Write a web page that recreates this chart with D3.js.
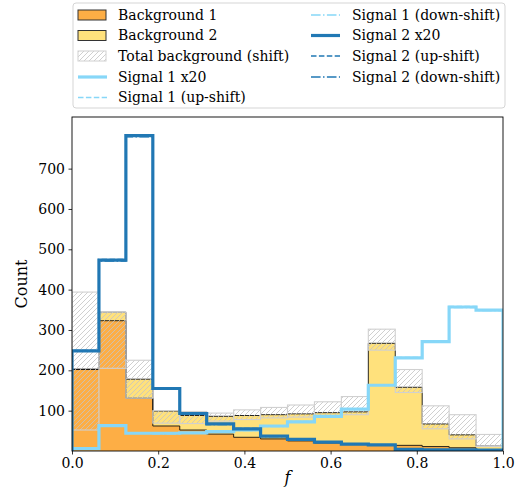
<!DOCTYPE html>
<html>
<head>
<meta charset="utf-8">
<script src="https://cdn.jsdelivr.net/npm/d3@7"></script>
<style>
  body { margin: 0; background: #fff; }
  svg { display: block; font-family: "DejaVu Serif", serif; }
</style>
</head>
<body>
<svg id="chart" width="525" height="489"></svg>
<script>
// ---------------- data ----------------
const binEdges = [0, 0.0625, 0.125, 0.1875, 0.25, 0.3125, 0.375, 0.4375, 0.5,
                  0.5625, 0.625, 0.6875, 0.75, 0.8125, 0.875, 0.9375, 1.0];
const background1 = [202, 323, 131, 62, 52, 42, 34, 30, 25, 20, 16, 15, 14, 11, 8, 3];
const background2 = [1, 21, 47, 37, 36, 44, 54, 60, 67, 75, 81, 252, 144, 56, 32, 9];
const totalShiftLow  = [52, 205, 131, 69, 68, 74, 78, 82, 84, 87, 90, 250, 145, 55, 30, 11];
const totalShiftHigh = [394, 344, 225, 100, 98, 94, 102, 108, 114, 122, 135, 302, 202, 112, 90, 41];
const signal1 = [6, 63, 44, 44, 45, 48, 52, 62, 72, 86, 104, 163, 231, 271, 357, 349];
const signal1Up = [6, 64, 45, 44, 45, 49, 52, 62, 73, 86, 105, 164, 232, 272, 358, 350];
const signal1Down = [6, 62, 44, 43, 45, 48, 51, 61, 72, 85, 104, 163, 230, 270, 356, 348];
const signal2 = [248, 473, 782, 155, 93, 67, 55, 37, 29, 22, 17, 15, 4, 3, 3, 2];
const signal2Up = [249, 475, 784, 156, 93, 67, 56, 37, 29, 22, 17, 15, 4, 3, 3, 2];
const signal2Down = [247, 471, 779, 154, 92, 66, 55, 36, 28, 21, 17, 15, 4, 3, 3, 2];
const xTicks = [0, 0.2, 0.4, 0.6, 0.8, 1.0];
const xTickLabels = ["0.0", "0.2", "0.4", "0.6", "0.8", "1.0"];
const yTicks = [100, 200, 300, 400, 500, 600, 700];
const legendLabels = ["Background 1", "Background 2", "Total background (shift)",
  "Signal 1 x20", "Signal 1 (up-shift)", "Signal 1 (down-shift)",
  "Signal 2 x20", "Signal 2 (up-shift)", "Signal 2 (down-shift)"];

// ---------------- styles ----------------
const C = {
  orange: "#fdae45", yellow: "#ffe17c", sig1: "#87d7f8", sig2: "#2178b4",
  hatch: "#c4c4c4", bandEdge: "#d0d0d0"
};
const margin = { left: 72, right: 22, top: 117, bottom: 38 };
const W = 525, H = 489;

const svg = d3.select("#chart");
const x = d3.scaleLinear().domain([0, 1]).range([margin.left, W - margin.right]);
const y = d3.scaleLinear().domain([0, 828]).range([H - margin.bottom, margin.top]);

const defs = svg.append("defs");
const pat = defs.append("pattern").attr("id", "hatch").attr("patternUnits", "userSpaceOnUse")
  .attr("width", 5).attr("height", 5);
pat.append("path").attr("d", "M-1,1 l2,-2 M0,5 l5,-5 M4,6 l2,-2")
  .attr("stroke", C.hatch).attr("stroke-width", 0.8);
defs.append("clipPath").attr("id", "clip").append("rect")
  .attr("x", x(0)).attr("y", y(828)).attr("width", x(1) - x(0)).attr("height", y(0) - y(828));

// step path helper, matplotlib 'step' histogram outline
function stepPts(vals) {
  const pts = [[binEdges[0], 0]];
  vals.forEach((v, i) => { pts.push([binEdges[i], v]); pts.push([binEdges[i + 1], v]); });
  pts.push([binEdges[binEdges.length - 1], 0]);
  return pts;
}
const line = d3.line().x(d => x(d[0])).y(d => y(d[1]));

const plot = svg.append("g").attr("clip-path", "url(#clip)");
const stackTop = background1.map((v, i) => v + background2[i]);

// stacked backgrounds
plot.append("path").attr("d", line(stepPts(stackTop)) + "Z").attr("fill", C.yellow).attr("stroke", "none");
plot.append("path").attr("d", line(stepPts(background1)) + "Z").attr("fill", C.orange).attr("stroke", "none");
plot.append("path").attr("d", line(stepPts(stackTop))).attr("fill", "none").attr("stroke", "#111").attr("stroke-width", 0.9);
plot.append("path").attr("d", line(stepPts(background1))).attr("fill", "none").attr("stroke", "#111").attr("stroke-width", 0.9);

// shift band
plot.selectAll("rect.band").data(totalShiftLow).join("rect").attr("class", "band")
  .attr("x", (d, i) => x(binEdges[i]))
  .attr("width", (d, i) => x(binEdges[i + 1]) - x(binEdges[i]))
  .attr("y", (d, i) => y(totalShiftHigh[i]))
  .attr("height", (d, i) => y(d) - y(totalShiftHigh[i]))
  .attr("fill", "url(#hatch)").attr("stroke", C.bandEdge).attr("stroke-width", 1.1);

// signals
function drawStep(vals, color, w, dash) {
  const p = plot.append("path").attr("d", line(stepPts(vals))).attr("fill", "none")
    .attr("stroke", color).attr("stroke-width", w).attr("stroke-linejoin", "miter");
  if (dash) p.attr("stroke-dasharray", dash);
}
drawStep(signal1, C.sig1, 3.2);
drawStep(signal1Up, C.sig1, 1.5, "5.5,2.4");
drawStep(signal1Down, C.sig1, 1.5, "9.6,2.4,1.5,2.4");
drawStep(signal2, C.sig2, 3.2);
drawStep(signal2Up, C.sig2, 1.5, "5.5,2.4");
drawStep(signal2Down, C.sig2, 1.5, "9.6,2.4,1.5,2.4");

// axes
const xAxis = d3.axisBottom(x).tickValues(xTicks).tickFormat((d, i) => xTickLabels[i]).tickSizeOuter(0).tickSize(3.5).tickPadding(3.5);
const yAxis = d3.axisLeft(y).tickValues(yTicks).tickSizeOuter(0).tickSize(3.5).tickPadding(3.5);
const gx = svg.append("g").attr("transform", `translate(0,${y(0)})`).call(xAxis);
const gy = svg.append("g").attr("transform", `translate(${x(0)},0)`).call(yAxis);
[gx, gy].forEach(g => {
  g.select(".domain").remove();
  g.selectAll("text").attr("font-family", "DejaVu Serif").attr("font-size", 14).attr("fill", "#000");
  g.selectAll("line").attr("stroke", "#000").attr("stroke-width", 0.8);
});
svg.append("rect").attr("x", x(0)).attr("y", y(828)).attr("width", x(1) - x(0)).attr("height", y(0) - y(828))
  .attr("fill", "none").attr("stroke", "#000").attr("stroke-width", 0.9);

svg.append("text").attr("x", (x(0) + x(1)) / 2).attr("y", 483).attr("text-anchor", "middle")
  .attr("font-size", 16).attr("font-style", "italic").text("f");
svg.append("text").attr("transform", `translate(27,${(y(0) + y(828)) / 2}) rotate(-90)`)
  .attr("text-anchor", "middle").attr("font-size", 16).text("Count");

// legend
const lg = svg.append("g");
lg.append("rect").attr("x", 73).attr("y", 3).attr("width", 432).attr("height", 105).attr("rx", 3)
  .attr("fill", "#fff").attr("fill-opacity", 0.8).attr("stroke", "#d5d5d5").attr("stroke-width", 1);
const rows = [15, 35.5, 56, 77, 97.5];
const cols = [{ hx: 78, tx: 118 }, { hx: 311, tx: 352 }];
const items = [
  { type: "patch", fill: C.orange, stroke: "#333" },
  { type: "patch", fill: C.yellow, stroke: "#333" },
  { type: "patch", fill: "url(#hatch)", stroke: C.bandEdge },
  { type: "line", color: C.sig1, w: 3.2 },
  { type: "line", color: C.sig1, w: 1.5, dash: "5.5,2.4" },
  { type: "line", color: C.sig1, w: 1.5, dash: "9.6,2.4,1.5,2.4" },
  { type: "line", color: C.sig2, w: 3.2 },
  { type: "line", color: C.sig2, w: 1.5, dash: "5.5,2.4" },
  { type: "line", color: C.sig2, w: 1.5, dash: "9.6,2.4,1.5,2.4" }
];
items.forEach((it, i) => {
  const col = i < 5 ? cols[0] : cols[1];
  const ry = rows[i < 5 ? i : i - 5];
  if (it.type === "patch") {
    lg.append("rect").attr("x", col.hx).attr("y", ry - 5).attr("width", 28).attr("height", 10)
      .attr("fill", it.fill).attr("stroke", it.stroke).attr("stroke-width", 1);
  } else {
    const l = lg.append("line").attr("x1", col.hx).attr("x2", col.hx + 29).attr("y1", ry).attr("y2", ry)
      .attr("stroke", it.color).attr("stroke-width", it.w);
    if (it.dash) l.attr("stroke-dasharray", it.dash);
  }
  lg.append("text").attr("x", col.tx).attr("y", ry).attr("dy", "0.35em")
    .attr("font-size", 14).text(legendLabels[i]);
});
</script>
</body>
</html>
